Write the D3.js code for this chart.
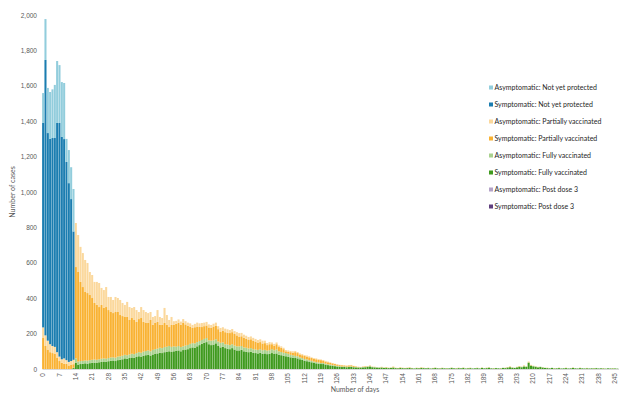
<!DOCTYPE html>
<html lang="en">
<head>
  <meta charset="UTF-8">
  <title>Cases by days since vaccination</title>
  <script src="https://d3js.org/d3.v7.min.js"></script>
  <style>
    body { margin: 0; background: #fff; font-family: Lato, "Liberation Sans", sans-serif; }
    .axis text { fill: #595959; font-size: 6.5px; }
    .legend text { fill: #262626; font-size: 7px; }
  </style>
</head>
<body>
  <div id="chart"></div>
  <script>
    // days since vaccination (categories)
    const days = d3.range(0, 247);
    const dayTicks = d3.range(0, 246, 7);
    const caseTicks = [0, 200, 400, 600, 800, 1000, 1200, 1400, 1600, 1800, 2000];

    // series values by day (missing days = 0)
    const asymNotYet = [169, 231, 255, 265, 275, 300, 350, 327, 310, 317, 130, 187, 180, 240];
    const symNotYet = [1155, 1556, 1173, 1160, 1175, 1180, 1295, 1320, 1256, 1239, 1120, 1010, 915, 725];

    const asymPartial = [60, 60, 50, 45, 40, 40, 30, 25, 20, 30, 20, 20, 20, 25,
      249, 209, 198, 192, 181, 170, 130, 130, 119, 130, 136, 96, 101, 113, 74, 85, 74, 85, 79, 85,
      74, 68, 85, 73, 57, 73, 67, 40, 62, 67, 62, 56, 45, 45, 39, 67, 45, 39, 85, 56, 40, 45, 21,
      17, 18, 18, 22, 18, 17, 18, 17, 19, 22, 20, 23, 20, 20, 17, 17, 16, 17, 17, 23, 21, 20, 19, 17, 18, 16, 18,
      22, 19, 18, 18, 17, 16, 16, 15, 17, 16, 16, 14, 12, 12, 10,
      10, 10, 9, 8, 8, 7, 7, 7, 8, 7, 6, 6, 6, 5, 6, 6, 4, 4, 5, 4, 4, 3, 4, 4, 3, 2, 2, 2, 2, 2,
      2, 2, 2, 2, 1, 1, 1, 1, 1, 1, 1, 1, 1, 1, 1, 1];

    const symPartial = [175, 130, 110, 95, 90, 85, 65, 45, 35, 30, 30, 20, 25, 20,
      516, 506, 447, 417, 387, 382, 368, 349, 319, 310, 295, 304, 285, 292, 271, 257, 250, 258, 252, 233,
      224, 214, 216, 195, 202, 193, 176, 187, 196, 168, 158, 155, 177, 141, 148, 151, 129, 131, 136, 123,
      107, 124, 121,
      129, 132, 126, 132, 120, 109, 98, 86, 91, 88, 80, 73, 72, 71, 73, 72, 78, 77, 70, 61, 65, 68, 67, 68, 68, 66, 62,
      53, 55, 54, 50, 48, 50, 48, 45, 39, 40, 38, 38, 31, 34, 28,
      26, 30, 24, 24, 20, 10, 12, 15, 14, 21, 18, 16, 16, 18, 16, 16, 16, 16, 16, 15,
      16, 14, 12, 11, 10, 10, 8, 7, 6, 7, 5, 5, 6, 6, 5, 3, 2, 1, 2, 3, 1, 2, 1, 1, 0, 0,
      2, 1, 2, 1, 1, 3, 1, 1, 2, 1, 1, 1, 2, 1, 0, 1, 1, 2, 1, 0,
      1, 0, 1, 1, 0, 1, 1, 0, 1, 0, 1, 0, 1, 1, 0, 1, 0, 1, 1, 0,
      0, 1, 0, 1, 0, 1, 1, 0, 1, 0, 0, 1, 0, 1, 1, 2, 1, 0, 1, 2,
      1, 2, 1, 3, 2, 1, 1, 1, 0, 1, 0, 1, 0, 0, 1, 0, 1, 0, 0, 1,
      0, 0, 1, 0, 0, 1, 0, 0, 1, 0, 0, 1, 0, 0, 0, 1, 0, 0, 0, 1, 0, 0];

    const asymFully = [0, 0, 0, 0, 0, 0, 0, 0, 0, 0, 0, 0, 0, 2,
      25, 17, 17, 16, 16, 17, 17, 17, 18, 18, 17, 18, 18, 18, 18, 19, 18, 19, 20, 20,
      20, 20, 20, 20, 21, 21, 22, 23, 22, 23, 24, 25, 24, 26, 27, 27, 28, 28, 29, 28, 30, 29, 28,
      24, 25, 24, 21, 22, 24, 24, 24, 25, 24, 23, 22, 22, 23, 22, 25, 24, 23, 25, 26, 25, 22, 23, 23, 22, 22, 23,
      23, 22, 22, 22, 21, 21, 20, 20, 20, 20, 20, 20, 20, 20, 22, 21, 22, 20, 18, 17,
      18, 16, 14, 14, 12, 12, 11, 10, 10, 10, 8, 8, 7, 7, 7, 6, 6, 5, 5, 5,
      5, 4, 4, 3, 3, 3, 3, 3, 3, 2, 2, 2, 2, 2, 2, 3, 3, 2, 2, 2, 2,
      2, 1, 1, 1, 1, 2, 1, 1, 1, 1, 1, 1, 1, 1, 1, 1, 1, 1, 1, 1,
      1, 1, 1, 1, 1, 1, 1, 1, 1, 1, 1, 1, 1, 1, 1, 1, 1, 1, 1, 1,
      1, 1, 1, 1, 1, 1, 1, 1, 1, 1, 1, 1, 1, 1, 2, 2, 1, 1, 2, 2,
      2, 3, 2, 4, 3, 2, 2, 2, 2, 1, 1, 1, 1, 1, 1, 1, 1, 1, 1, 1,
      1, 1, 1, 1, 1, 1, 1, 1, 1, 1, 1, 1, 1, 1, 1, 1, 1, 1, 1, 1, 1, 1];

    const symFully = [0, 0, 0, 0, 0, 0, 0, 0, 0, 0, 0, 0, 0, 5,
      35, 25, 28, 30, 32, 30, 33, 35, 36, 34, 38, 40, 42, 40, 44, 46, 48, 45, 50, 52,
      55, 60, 58, 62, 65, 63, 68, 72, 70, 75, 78, 80, 76, 82, 85, 88, 92, 90, 95, 98, 100, 96, 100,
      102, 105, 100, 107, 110, 112, 118, 122, 120, 128, 135, 142, 148, 152, 140, 135, 138, 145, 130, 122,
      125, 118, 115, 112, 118, 110, 105,
      105, 108, 100, 98, 95, 97, 92, 90, 88, 92, 86, 88, 84, 86, 90, 85, 88, 80, 78, 75,
      72, 70, 66, 64, 62, 60, 55, 52, 46, 44, 42, 38, 35, 32, 30, 28, 28, 25, 22, 20,
      17, 16, 14, 13, 11, 12, 10, 11, 12, 10, 9, 8, 8, 9, 10, 12, 14, 10, 9, 8, 7,
      8, 6, 7, 5, 6, 8, 5, 4, 6, 5, 4, 5, 6, 4, 3, 5, 4, 6, 5, 4,
      5, 3, 4, 6, 4, 3, 5, 4, 3, 4, 6, 4, 3, 5, 4, 6, 3, 4, 5, 3,
      4, 5, 3, 6, 4, 5, 7, 4, 3, 5, 4, 3, 6, 5, 8, 10, 7, 6, 9, 12,
      10, 14, 12, 34, 18, 15, 12, 9, 11, 8, 6, 5, 4, 6, 3, 4, 5, 3, 4, 5,
      3, 4, 6, 4, 3, 5, 4, 3, 4, 3, 4, 3, 5, 3, 4, 3, 2, 4, 3, 3, 3, 2];

    const asymPostDose3 = [];
    const symPostDose3 = [];

    // legend order (top to bottom); stacks are drawn in reverse
    const seriesNames = [
      "Asymptomatic: Not yet protected", "Symptomatic: Not yet protected",
      "Asymptomatic: Partially vaccinated", "Symptomatic: Partially vaccinated",
      "Asymptomatic: Fully vaccinated", "Symptomatic: Fully vaccinated",
      "Asymptomatic: Post dose 3", "Symptomatic: Post dose 3"
    ];
    const seriesValues = [asymNotYet, symNotYet, asymPartial, symPartial,
      asymFully, symFully, asymPostDose3, symPostDose3];
    const seriesColors = ["#92cddc", "#1b7db0", "#fbd89c", "#f9b233",
      "#a9d18e", "#3f9a1e", "#b3a2c7", "#5f3f7e"];

    const W = 624, H = 397;
    const stackKeys = seriesNames.slice().reverse();

    const table = days.map(d => {
      const row = { day: d };
      seriesNames.forEach((n, i) => { row[n] = seriesValues[i][d] || 0; });
      return row;
    });

    const svg = d3.select("#chart").append("svg")
      .attr("width", W)
      .attr("height", H);

    const x = d3.scaleBand().domain(days).range([42, 618.5]).paddingInner(0.12).paddingOuter(0.05);
    const y = d3.scaleLinear().domain([0, 2000]).range([369, 15]);

    const stacked = d3.stack().keys(stackKeys)(table);
    const color = d3.scaleOrdinal().domain(seriesNames).range(seriesColors);

    svg.append("g")
      .selectAll("g")
      .data(stacked)
      .join("g")
      .attr("fill", s => color(s.key))
      .selectAll("rect")
      .data(s => s.filter(p => p[1] > p[0]))
      .join("rect")
      .attr("x", p => x(p.data.day))
      .attr("width", x.bandwidth())
      .attr("y", p => y(p[1]))
      .attr("height", p => y(p[0]) - y(p[1]));

    // y axis
    const yAxis = svg.append("g")
      .attr("class", "axis")
      .attr("transform", "translate(37,0)")
      .call(d3.axisLeft(y).tickValues(caseTicks).tickSize(0).tickPadding(0).tickFormat(d3.format(",")));
    yAxis.select(".domain").remove();

    // x axis
    const xAxis = svg.append("g")
      .attr("class", "axis")
      .attr("transform", "translate(0,369)")
      .call(d3.axisBottom(x).tickValues(dayTicks).tickSize(0));
    xAxis.select(".domain").attr("stroke", "#d9d9d9");
    xAxis.selectAll("text")
      .attr("text-anchor", "end")
      .attr("x", 0)
      .attr("y", 0)
      .attr("dy", "0.32em")
      .attr("transform", "translate(0,4) rotate(-90)");

    // axis titles
    svg.append("text")
      .attr("transform", "translate(15,192) rotate(-90)")
      .attr("text-anchor", "middle")
      .attr("font-size", "7px")
      .attr("fill", "#595959")
      .text("Number of cases");

    svg.append("text")
      .attr("x", 355)
      .attr("y", 392)
      .attr("text-anchor", "middle")
      .attr("font-size", "7px")
      .attr("fill", "#595959")
      .text("Number of days");

    // legend
    const legend = svg.append("g").attr("class", "legend")
      .selectAll("g")
      .data(seriesNames)
      .join("g")
      .attr("transform", (d, i) => `translate(489,${88 + i * 17})`);
    legend.append("rect")
      .attr("x", 0).attr("y", -2.5)
      .attr("width", 4).attr("height", 4)
      .attr("fill", d => color(d));
    legend.append("text")
      .attr("x", 5.5)
      .attr("dy", "0.33em")
      .text(d => d);
  </script>
</body>
</html>
